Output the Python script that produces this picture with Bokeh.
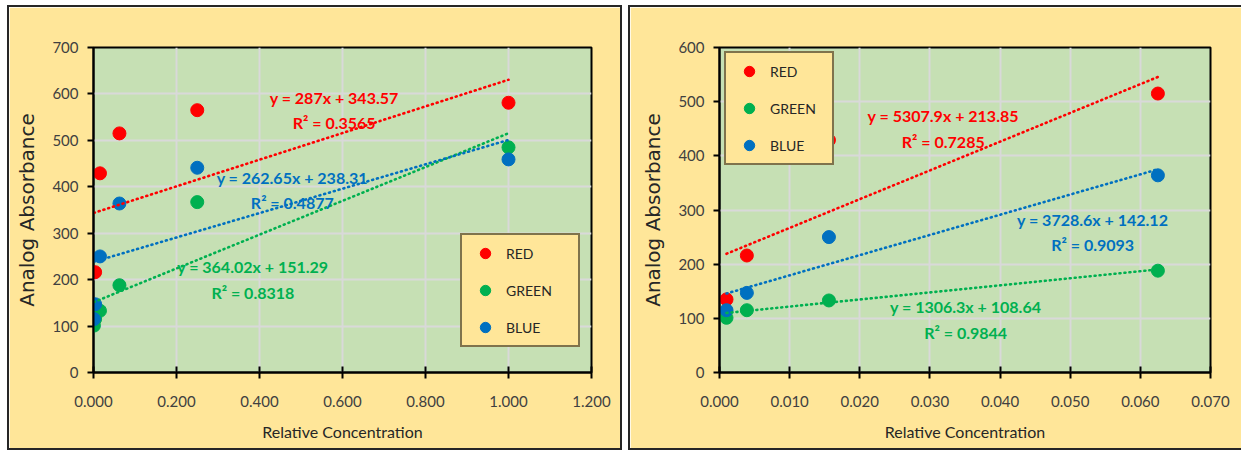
from bokeh.plotting import figure
from bokeh.models import Range1d, FixedTicker, NumeralTickFormatter, Legend, LegendItem
from bokeh.layouts import row
from bokeh.core.properties import value
from bokeh.embed import file_html
from bokeh.resources import INLINE

# ---------------- data ----------------
series_names = ["RED", "GREEN", "BLUE"]
series_colors = ["#FF0000", "#00B050", "#0070C0"]

conc_all = [0.001, 0.0039, 0.0156, 0.0625, 0.25, 1.0]
red_vals = [135, 216, 429, 515, 565, 581]
green_vals = [101, 115, 133, 188, 367, 485]
blue_vals = [115, 147, 250, 364, 441, 459]

# left panel: all concentrations ; right panel: first four
left_n = 6
right_n = 4

# trendline parameters (as printed on the chart)
left_slopes = [287.0, 364.02, 262.65]
left_intercepts = [343.57, 151.29, 238.31]
left_r2 = ["0.3565", "0.8318", "0.4877"]
left_eq = ["y = 287x + 343.57", "y = 364.02x + 151.29", "y = 262.65x + 238.31"]

right_slopes = [5307.9, 1306.3, 3728.6]
right_intercepts = [213.85, 108.64, 142.12]
right_r2 = ["0.7285", "0.9844", "0.9093"]
right_eq = ["y = 5307.9x + 213.85", "y = 1306.3x + 108.64", "y = 3728.6x + 142.12"]

left_xticks = [0.0, 0.2, 0.4, 0.6, 0.8, 1.0, 1.2]
left_yticks = [0, 100, 200, 300, 400, 500, 600, 700]
right_xticks = [0.0, 0.01, 0.02, 0.03, 0.04, 0.05, 0.06, 0.07]
right_yticks = [0, 100, 200, 300, 400, 500, 600]

x_title = "Relative Concentration"
y_title = "Analog Absorbance"

# ---------------- styling / layout ----------------
PANEL_BG = "#FFE699"
PLOT_BG = "#C6E0B4"
GRID = "#D9D9D9"
FONT = "Lato"

# equation label positions (data coords) [eq, r2] for each series
left_label_pos = [((0.58, 592), (0.58, 538)),
                  ((0.384, 228), (0.384, 172)),
                  ((0.479, 419), (0.479, 367))]
right_label_pos = [((0.0319, 475), (0.0319, 427)),
                   ((0.0351, 121), (0.0351, 74)),
                   ((0.0532, 283), (0.0532, 236))]


def make_panel(n, xr, yr, xticks, yticks, slopes, intercepts, eqs, r2s,
               label_pos, width, height, mb_left, mb_right, mb_top, mb_bottom,
               legend_loc, legend_label_width, css):
    p = figure(width=width, height=height, output_backend="svg",
               toolbar_location=None, x_range=Range1d(*xr), y_range=Range1d(*yr),
               min_border_left=mb_left, min_border_right=mb_right,
               min_border_top=mb_top, min_border_bottom=mb_bottom,
               background_fill_color=PLOT_BG, border_fill_color=PANEL_BG,
               styles=css)
    p.outline_line_color = "black"
    p.outline_line_width = 2
    p.grid.grid_line_color = GRID
    p.grid.grid_line_width = 2
    p.xgrid.ticker = FixedTicker(ticks=xticks)
    p.ygrid.ticker = FixedTicker(ticks=yticks)

    p.xaxis.ticker = FixedTicker(ticks=xticks)
    p.yaxis.ticker = FixedTicker(ticks=yticks)
    p.xaxis.formatter = NumeralTickFormatter(format="0.000")
    for ax in (p.xaxis[0], p.yaxis[0]):
        ax.axis_line_color = "black"
        ax.axis_line_width = 2
        ax.major_tick_line_color = "black"
        ax.major_tick_line_width = 2
        ax.minor_tick_line_color = None
        ax.major_label_text_font = FONT
        ax.major_label_text_font_size = "15px"
        ax.major_label_text_color = "#404040"
    p.xaxis.major_tick_in = 6
    p.xaxis.major_tick_out = 6
    p.yaxis.major_tick_in = 0
    p.yaxis.major_tick_out = 6
    p.xaxis.major_label_standoff = 17
    p.yaxis.major_label_standoff = 9

    p.xaxis.axis_label = x_title
    p.xaxis.axis_label_text_font = FONT
    p.xaxis.axis_label_text_font_size = "16px"
    p.xaxis.axis_label_text_font_style = "normal"
    p.xaxis.axis_label_text_color = "#262626"
    p.xaxis.axis_label_standoff = 12
    p.yaxis.axis_label = y_title
    p.yaxis.axis_label_text_font = "DejaVu Sans"
    p.yaxis.axis_label_text_font_size = "20px"
    p.yaxis.axis_label_text_font_style = "normal"
    p.yaxis.axis_label_text_color = "#262626"
    p.yaxis.axis_label_standoff = 10

    xs = conc_all[:n]
    vals = [red_vals[:n], green_vals[:n], blue_vals[:n]]
    items = []
    for name, col, ys in zip(series_names, series_colors, vals):
        r = p.scatter(xs, ys, size=13, color=col, line_color=col)
        items.append(LegendItem(label=name, renderers=[r]))

    x0, x1 = min(xs), max(xs)
    for col, m, b in zip(series_colors, slopes, intercepts):
        p.line([x0, x1], [m * x0 + b, m * x1 + b], line_color=col,
               line_width=2.6, line_dash="1 4", line_cap="round")

    for col, eq, r2, (pe, pr) in zip(series_colors, eqs, r2s, label_pos):
        p.text(x=[pe[0], pr[0]], y=[pe[1], pr[1]], text=[eq, "R² = " + r2],
               text_color=col, text_font=value(FONT), text_font_style="bold",
               text_font_size="16px", text_align="center", text_baseline="middle")

    leg = Legend(items=items, location=legend_loc, orientation="vertical",
                 background_fill_color=PANEL_BG, background_fill_alpha=1.0,
                 border_line_color="black", border_line_width=2,
                 padding=5, spacing=11, label_height=26, glyph_height=26,
                 glyph_width=36, label_standoff=3, label_width=legend_label_width,
                 label_text_font=FONT, label_text_font_size="14px",
                 label_text_color="#262626", margin=0)
    p.add_layout(leg, "center")
    return p


p1 = make_panel(left_n, (0, 1.2), (0, 700), left_xticks, left_yticks,
                left_slopes, left_intercepts, left_eq, left_r2, left_label_pos,
                width=615, height=445, mb_left=84, mb_right=33, mb_top=40, mb_bottom=80,
                legend_loc=(367, 25), legend_label_width=67,
                css={"border": "2px solid #262626"})
p2 = make_panel(right_n, (0, 0.07), (0, 600), right_xticks, right_yticks,
                right_slopes, right_intercepts, right_eq, right_r2, right_label_pos,
                width=613, height=445, mb_left=89, mb_right=33, mb_top=40, mb_bottom=80,
                legend_loc=(5, 207), legend_label_width=57,
                css={"border": "2px solid #262626", "border-right": "none"})

layout = row(p1, p2, spacing=6, margin=(5, 0, 0, 7))
open("out.html", "w").write(file_html(layout, INLINE))
